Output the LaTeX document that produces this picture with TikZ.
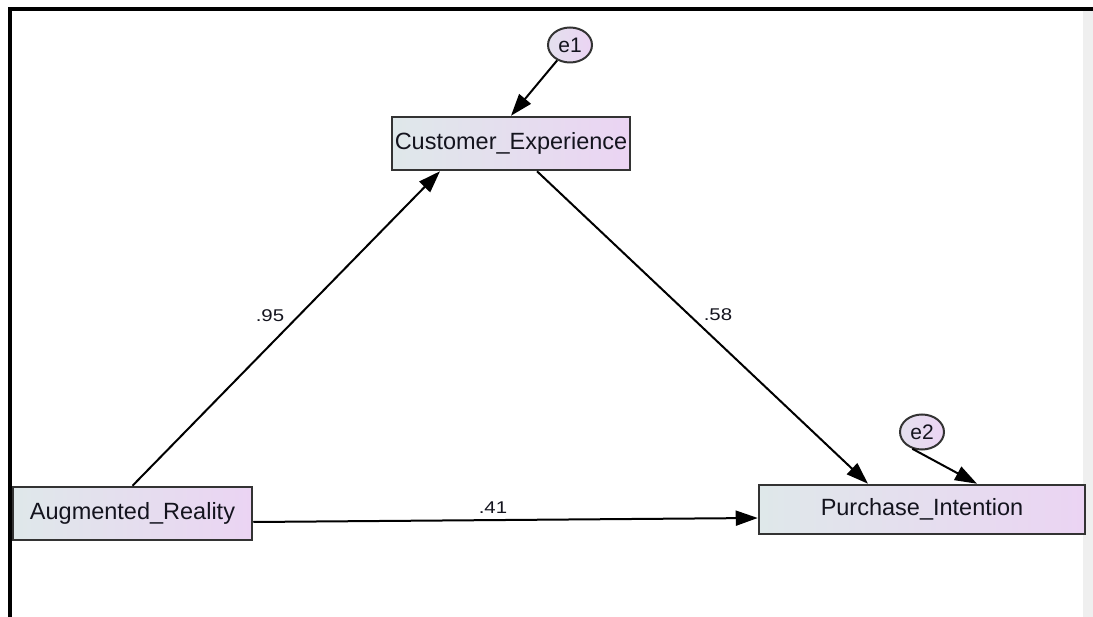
\documentclass[tikz,border=0pt]{standalone}
\usepackage{fontspec}
\setmainfont{Liberation Sans}
\usetikzlibrary{arrows.meta,shapes.geometric}
\definecolor{boxleft}{HTML}{DFE8EA}
\definecolor{boxright}{HTML}{EBD4F3}
\definecolor{framegray}{HTML}{333333}
\definecolor{inkdark}{HTML}{14141E}
\definecolor{stripgray}{HTML}{EFEFEF}
\tikzset{
  obs/.style={draw=framegray, line width=2.5pt, left color=boxleft, right color=boxright,
    inner sep=0pt, text=inkdark, font=\fontsize{23.5}{26}\selectfont},
  err/.style={ellipse, draw=framegray, line width=2pt, left color=boxleft!60!boxright, right color=boxright,
    inner sep=0pt, minimum width=44pt, minimum height=35pt, text=inkdark,
    font=\fontsize{21}{24}\selectfont},
  path/.style={line width=2pt, draw=black, -{Triangle[length=22pt,width=15pt]}},
  coef/.style={text=inkdark, font=\fontsize{17}{19}\selectfont, xscale=1.2, inner sep=0pt}
}
\begin{document}
\begin{tikzpicture}[x=1pt,y=-1pt]
\useasboundingbox (0,0) rectangle (1093,617);
% window frame
\fill[stripgray] (1083,11) rectangle (1093,617);
\fill[black] (8,7) rectangle (1093,11);
\fill[black] (8,7) rectangle (11.5,617);

% observed variables
\node[obs, minimum width=238pt, minimum height=53pt] (ce) at (511,143.5) {Customer\_Experience};
\node[obs, minimum width=239pt, minimum height=53pt] (ar) at (132.5,513.5) {Augmented\_Reality};
\node[obs, minimum width=326pt, minimum height=49pt] (pi) at (922,509.5) {Purchase\_Intention};

% error terms
\node[err] (e1) at (570,45) {e1};
\node[err] (e2) at (922,432) {e2};

% regression paths
\draw[path] (ar.north) -- ([xshift=-71pt]ce.south);
\draw[path] ([xshift=26pt]ce.south) -- ([xshift=-54pt]pi.north);
\draw[path] ([yshift=-8.5pt]ar.east) -- ([yshift=-8.5pt]pi.west);
\draw[path] (e1) -- (ce.north);
\draw[path] (e2.240) -- ([xshift=55pt]pi.north);

% standardized coefficients
\node[coef] (c95) at (270,316) {.95};
\node[coef] (c58) at (718,315) {.58};
\node[coef] (c41) at (493,508) {.41};
\end{tikzpicture}
\end{document}
